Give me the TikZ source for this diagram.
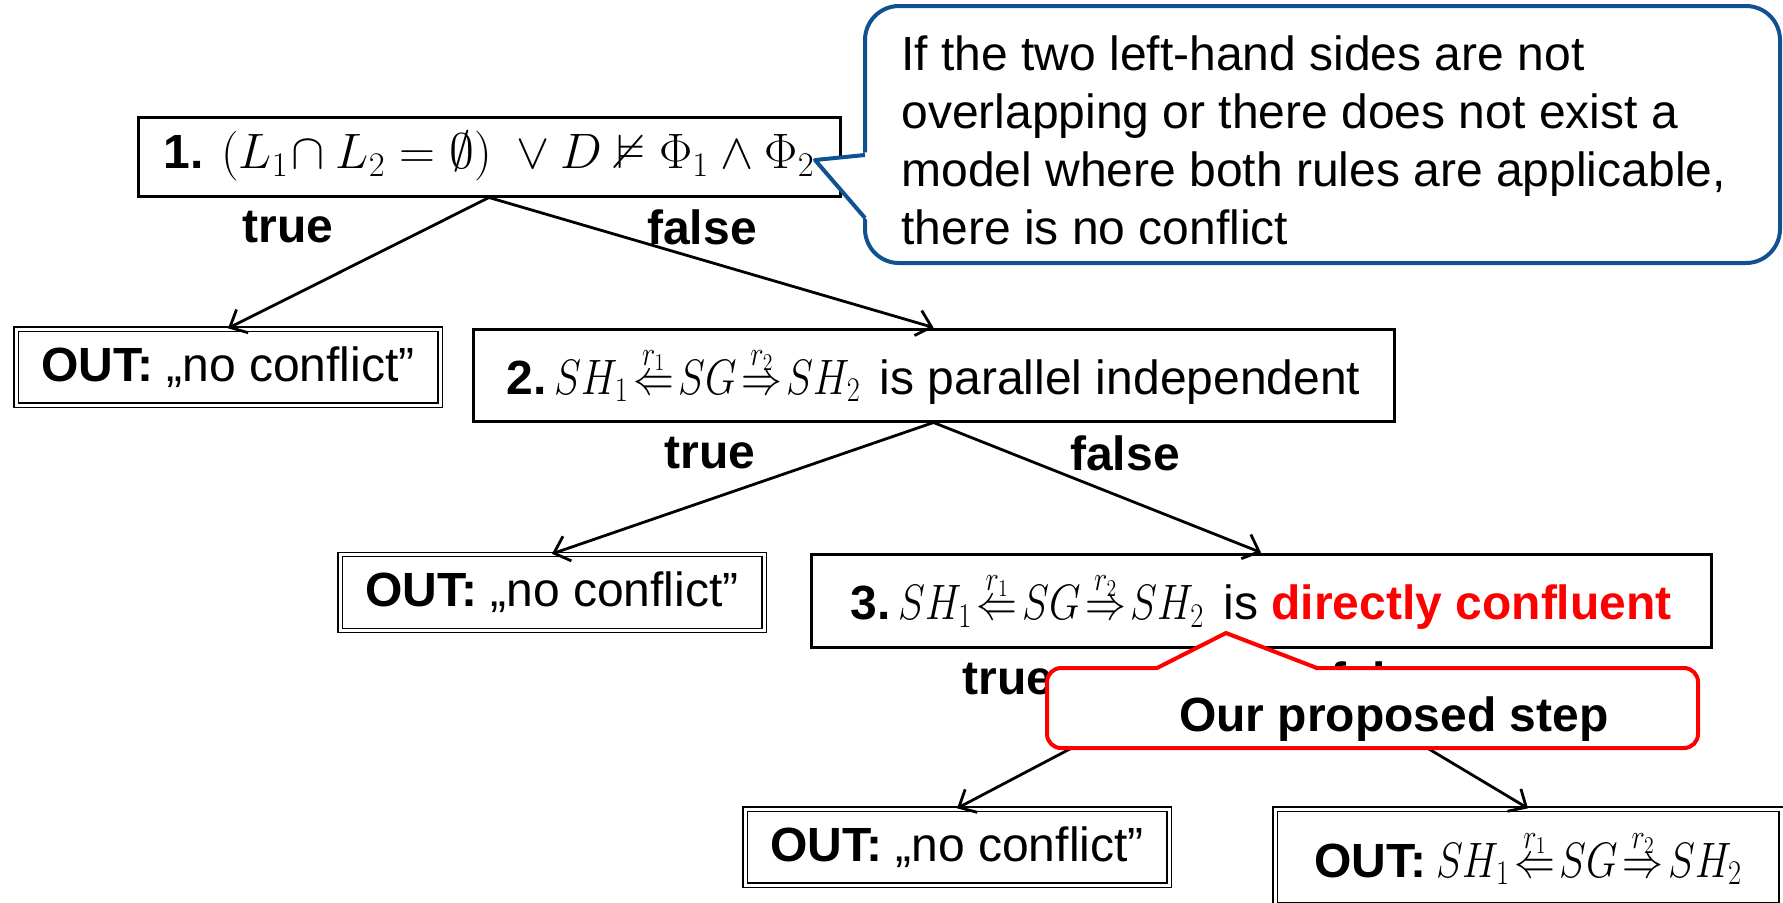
\documentclass[tikz,border=0pt]{standalone}
\usepackage{amssymb}
\usepackage{graphicx}
\usepackage{fontspec}
\setmainfont{Liberation Sans}
\usetikzlibrary{arrows.meta}
\definecolor{calloutblue}{RGB}{16,82,145}
\definecolor{pptred}{RGB}{255,0,0}
\newcommand\sgspan{\scalebox{0.82}[1]{$SH_1\mkern2mu{\stackrel{r_1}{\Leftarrow}}\mkern2mu SG\mkern2mu{\stackrel{r_2}{\Rightarrow}}\mkern2mu SH_2$}}
\begin{document}
\begin{tikzpicture}[x=0.5pt,y=-0.5pt,
  every node/.style={font=\fontsize{24}{29}\selectfont, inner sep=0pt},
  condbox/.style={draw, line width=1.5pt, minimum width=#1, minimum height=46pt},
  outbox/.style={draw, line width=0.7pt, double, double distance=1.5pt, minimum width=#1, minimum height=38pt},
  lbl/.style={font=\fontsize{24}{29}\selectfont\bfseries},
  arr/.style={line width=1.4pt, -{Straight Barb[length=7pt,width=13pt,line width=1.4pt]}},
  bluecallout/.style={draw=calloutblue, line width=2pt, line join=round},
  redcallout/.style={draw=pptred, line width=2pt, fill=white, line join=round}]
\clip (0,0) rectangle (1783,902);
% condition boxes
\node[condbox=351pt, minimum height=39.5pt] (c1) at (489,156.5)
  {\textbf{1.} $(L_1\!\cap L_2=\emptyset)\ \vee D \nvDash \Phi_1\wedge\Phi_2$};
\node[condbox=460.5pt] (c2) at (933.5,375)
  {\textbf{2.}\hspace{4pt}\sgspan\hspace{3pt} is parallel independent};
\node[condbox=450pt, minimum height=46.5pt] (c3) at (1261,600.5)
  {\textbf{3.}\hspace{4pt}\sgspan\hspace{3pt} is \textcolor{pptred}{\textbf{directly confluent}}};
% output boxes
\node[outbox=212pt] (o1) at (228,367) {\textbf{OUT:} „no conflict”};
\node[outbox=212pt] (o2) at (552,592.5) {\textbf{OUT:} „no conflict”};
\node[outbox=212pt] (o3) at (957,847) {\textbf{OUT:} „no conflict”};
\node[outbox=253pt, minimum height=48pt] (o4) at (1528,857) {\textbf{OUT:}\hspace{5pt}\sgspan};
% arrows
\draw[arr] (c1.south) -- (o1.north);
\draw[arr] (c1.south) -- (c2.north);
\draw[arr] (c2.south) -- (o2.north);
\draw[arr] (c2.south) -- (c3.north);
\draw[arr] (c3.south) -- (o3.north);
\draw[arr] (c3.south) -- (o4.north);
% branch labels
\node[lbl] (t1) at (288,227) {true};
\node[lbl] (f1) at (702,227) {false};
\node[lbl] (t2) at (710,453) {true};
\node[lbl] (f2) at (1125,453) {false};
\node[lbl] (t3) at (1008,679) {true};
\node[lbl] (f3) at (1385,679) {false};
% blue callout
\filldraw[bluecallout, fill=white, rounded corners=17pt] (865,6) rectangle (1780,263);
\fill[white] (869,152) -- (815,160) -- (869,222) -- cycle;
\coordinate (tip) at (815,160);
\draw[bluecallout] (865,155) -- (tip) -- (865,218);
\node[anchor=north west, align=left] (note) at (901,35)
  {If the two left-hand sides are not\\overlapping or there does not exist a\\model where both rules are applicable,\\there is no conflict};
% red callout
\draw[redcallout] (1100,668) [rounded corners=7pt] -- (1047,668) -- (1047,748) -- (1698,748)
  -- (1698,668) -- (1330,668) [sharp corners] -- (1317,668) -- (1226,633) -- (1157,668) -- cycle;
\node[font=\fontsize{24}{29}\selectfont\bfseries] (step) at (1394,719) {Our proposed step};
\end{tikzpicture}
\end{document}
